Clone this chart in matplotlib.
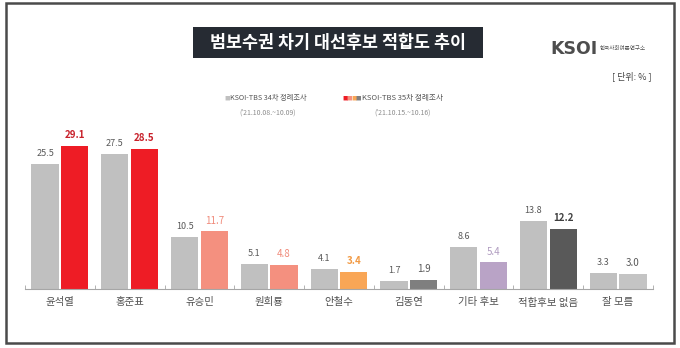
import matplotlib.pyplot as plt
from matplotlib.patches import Rectangle
import numpy as np

plt.rcParams['font.family'] = ['Noto Sans CJK KR', 'DejaVu Sans']

# data
categories = ['윤석열', '홍준표', '유승민', '원희룡', '안철수', '김동연', '기타 후보', '적합후보 없음', '잘 모름']
survey_34 = [25.5, 27.5, 10.5, 5.1, 4.1, 1.7, 8.6, 13.8, 3.3]
survey_35 = [29.1, 28.5, 11.7, 4.8, 3.4, 1.9, 5.4, 12.2, 3.0]
legend_34 = 'KSOI-TBS 34차 정례조사'
legend_35 = 'KSOI-TBS 35차 정례조사'
dates_34 = "('21.10.08.~10.09)"
dates_35 = "('21.10.15.~10.16)"

# colours for the 35th survey bars and their labels
bar_colors_35 = ['#ee1c25', '#ee1c25', '#f4907f', '#f4907f', '#f9a656',
                 '#7f7f7f', '#b9a3c6', '#595959', '#c4c4c4']
label_colors_35 = ['#c8202a', '#c8202a', '#f08a7a', '#f08a7a', '#f29a44',
                   '#595959', '#b09cc0', '#404040', '#595959']
label_bold_35 = [True, True, False, False, True, False, False, True, False]
GRAY = '#c0c0c0'

W, H = 680, 348
fig = plt.figure(figsize=(W / 100, H / 100), dpi=100)

def px(x, y):
    # pixel coords (top-left origin) -> figure fraction
    return x / W, 1 - y / H

# outer frame
fig.patches.append(Rectangle(px(6, 343), 668 / W, 340 / H, transform=fig.transFigure,
                             fill=False, edgecolor='#4a4a4a', linewidth=1.8))

# title box
fig.patches.append(Rectangle(px(193, 58), 290 / W, 31 / H, transform=fig.transFigure,
                             facecolor='#262b33', edgecolor='none'))
fig.text(*px(338, 42.5), '범보수권 차기 대선후보 적합도 추이', color='white',
         fontsize=12.5, fontweight='bold', ha='center', va='center')

# logo
fig.text(*px(550, 49), 'KSOI', color='#4d4d4d', fontsize=12.5, fontweight='bold',
         ha='left', va='center', family=['DejaVu Sans'])
fig.text(*px(600, 49), '한국사회여론연구소', color='#555555', fontsize=4.0,
         ha='left', va='center')
fig.text(*px(652, 76), '[ 단위: % ]', color='#444444', fontsize=6.5, ha='right', va='center')

# legend
fig.text(*px(224, 98), '■', color=GRAY, fontsize=4, ha='left', va='center')
fig.text(*px(230, 98), legend_34, color='#555555', fontsize=5.2, ha='left', va='center')
fig.text(*px(268, 113), dates_34, color='#8c8c8c', fontsize=5, ha='center', va='center')
for i, c in enumerate(['#ee1c25', '#f4907f', '#f9a656', '#7f7f7f']):
    fig.text(*px(342 + i * 4.5, 98), '■', color=c, fontsize=4, ha='left', va='center')
fig.text(*px(362, 98), legend_35, color='#555555', fontsize=5.5, ha='left', va='center')
fig.text(*px(403, 113), dates_35, color='#8c8c8c', fontsize=5, ha='center', va='center')

# bars
base_y = 289
top_y = 128
unit = 4.92
ax = fig.add_axes([25 / W, (H - base_y) / H, 628 / W, (base_y - top_y) / H])
ax.set_xlim(-0.5, len(categories) - 0.5)
ax.set_ylim(0, (base_y - top_y) / unit)

x = np.arange(len(categories))
bw = 0.39
off = 0.212
ax.bar(x - off, survey_34, bw, color=GRAY)
ax.bar(x + off, survey_35, bw, color=bar_colors_35)

for i in range(len(categories)):
    ax.text(x[i] - off, survey_34[i] + 1.2, f'{survey_34[i]:.1f}', ha='center', va='bottom',
            fontsize=6.5, color='#595959')
    ax.text(x[i] + off, survey_35[i] + 1.2, f'{survey_35[i]:.1f}', ha='center', va='bottom',
            fontsize=7, color=label_colors_35[i],
            fontweight='bold' if label_bold_35[i] else 'normal')

for s in ['top', 'right', 'left']:
    ax.spines[s].set_visible(False)
ax.spines['bottom'].set_color('#a6a6a6')
ax.spines['bottom'].set_linewidth(0.8)
ax.set_yticks([])
ax.set_xticks(x)
ax.set_xticklabels(categories, fontsize=7.5, color='#505050')
ax.tick_params(axis='x', length=0, pad=6)
ax.set_xticks(np.arange(len(categories) + 1) - 0.5, minor=True)
ax.tick_params(axis='x', which='minor', direction='in', length=3, color='#a6a6a6')

fig.savefig('out.png', dpi=100)
